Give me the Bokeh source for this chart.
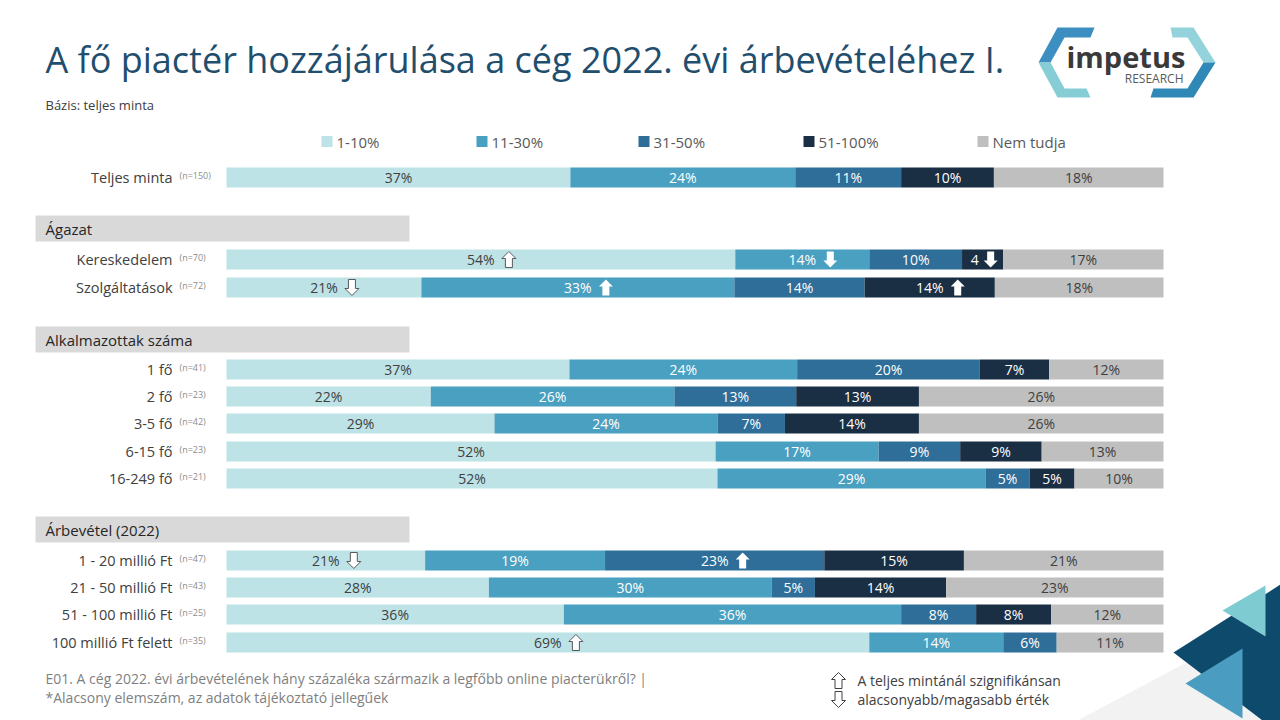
import numpy as np
from bokeh.plotting import figure
from bokeh.models import Range1d
from bokeh.core.properties import value
from bokeh.embed import file_html
from bokeh.resources import INLINE

FONT = "Open Sans"

# ---------------- data ----------------
title_text = "A fő piactér hozzájárulása a cég 2022. évi árbevételéhez I."
base_note = "Bázis: teljes minta"
categories = ["1-10%", "11-30%", "31-50%", "51-100%", "Nem tudja"]
colors = ["#BEE3E6", "#4AA0C0", "#2E6E99", "#1A2E44", "#BFBFBF"]

groups = ["Ágazat", "Alkalmazottak száma", "Árbevétel (2022)"]
rows = ["Teljes minta", "Kereskedelem", "Szolgáltatások", "1 fő", "2 fő", "3-5 fő",
        "6-15 fő", "16-249 fő", "1 - 20 millió Ft", "21 - 50 millió Ft",
        "51 - 100 millió Ft", "100 millió Ft felett"]
n_sizes = [150, 70, 72, 41, 23, 42, 23, 21, 47, 43, 25, 35]

v_1_10 = [36.7, 54.3, 20.8, 36.6, 21.8, 28.6, 52.2, 52.4, 21.2, 28.0, 36.0, 68.6]
v_11_30 = [24.0, 14.3, 33.4, 24.3, 26.0, 23.8, 17.4, 28.6, 19.2, 30.2, 36.0, 14.3]
v_31_50 = [11.3, 9.9, 13.9, 19.5, 13.0, 7.2, 8.7, 4.7, 23.4, 4.6, 8.0, 5.7]
v_51_100 = [9.9, 4.4, 13.9, 7.4, 13.1, 14.3, 8.7, 4.8, 14.9, 14.0, 8.0, 0.0]
v_nem = [18.1, 17.1, 18.0, 12.2, 26.1, 26.1, 13.0, 9.5, 21.3, 23.2, 12.0, 11.4]

# significance marks: (row index, segment index, direction)
sig_marks = [(1, 0, "up"), (1, 1, "down"), (1, 3, "down"),
             (2, 0, "down"), (2, 1, "up"), (2, 3, "up"),
             (8, 0, "down"), (8, 2, "up"), (11, 0, "up")]

footer_1 = "E01. A cég 2022. évi árbevételének hány százaléka származik a legfőbb online piacterükről? |"
footer_2 = "*Alacsony elemszám, az adatok tájékoztató jellegűek"
sig_note_1 = "A teljes mintánál szignifikánsan"
sig_note_2 = "alacsonyabb/magasabb érték"

# ---------------- layout ----------------
W, H = 1280, 720
BAR_X0, BAR_X1 = 226, 1163
PX = 100.0 / (BAR_X1 - BAR_X0)      # data units per pixel
BAR_H = 20
row_y = [177, 259, 287, 369, 396, 423, 451, 478, 560, 587, 614, 642]
group_box = [(215, 241), (326, 352), (516, 542)]
legend_x = [321, 476, 638, 803, 977]
legend_y = 141

p = figure(width=W, height=H, output_backend="svg", toolbar_location=None,
           x_range=Range1d(-BAR_X0 * PX, (W - BAR_X0) * PX), y_range=Range1d(H, 0),
           x_axis_type=None, y_axis_type=None, min_border=0, title=None)
p.extra_x_ranges = {"px": Range1d(0, W)}
p.outline_line_color = None
p.background_fill_color = "white"
p.border_fill_color = "white"

def T(x, y, txt, size, color, align="left", bold=False, rng="px"):
    p.text(x=[x], y=[y], text=[txt], text_font=value(FONT), text_font_size=f"{size}px",
           text_color=color, text_align=align, text_baseline="middle",
           text_font_style="bold" if bold else "normal", x_range_name=rng)

# ---------------- decorations ----------------
p.patch([1077, 1280, 1280], [720, 612, 720], fill_color="#F2F2F2", line_color=None, x_range_name="px")
p.patch([1173, 1280, 1280, 1262], [652, 584, 720, 720], fill_color="#0E4A6B", line_color=None, x_range_name="px")
p.patch([1222, 1265, 1265], [610, 585, 636], fill_color="#7ECBD1", line_color=None, x_range_name="px")
p.patch([1185, 1242, 1242], [683, 648, 718], fill_color="#4A9DC0", line_color=None, x_range_name="px")

# logo
p.patch([1094, 1057, 1038, 1050, 1064, 1090], [27, 27, 62, 62, 37, 37], fill_color="#3C8FC0", line_color=None, x_range_name="px")
p.patch([1038, 1057, 1090, 1086, 1064, 1050], [62, 97, 97, 88, 88, 62], fill_color="#86CDD6", line_color=None, x_range_name="px")
p.patch([1170, 1193, 1215, 1203, 1187, 1172], [27, 27, 62, 62, 37, 37], fill_color="#94D3DB", line_color=None, x_range_name="px")
p.patch([1215, 1193, 1150, 1153, 1187, 1203], [62, 97, 97, 88, 88, 62], fill_color="#2F88B6", line_color=None, x_range_name="px")
T(1066, 56, "impetus", 29, "#3A3A3A", bold=True)
T(1183, 78, "RESEARCH", 12, "#595959", align="right")

# ---------------- titles ----------------
T(45, 59, title_text, 36, "#1F4E6E")
T(45, 104, base_note, 13, "#404040")

# legend
for k, cat in enumerate(categories):
    p.rect(x=[legend_x[k] + 5.5], y=[legend_y], width=11, height=11, fill_color=colors[k],
           line_color=None, x_range_name="px")
    T(legend_x[k] + 15, legend_y, cat, 15, "#595959")

# section headers
for (top, bot), g in zip(group_box, groups):
    p.quad(left=[35], right=[409], top=[top], bottom=[bot], fill_color="#D9D9D9",
           line_color=None, x_range_name="px")
    T(45, (top + bot) / 2, g, 15, "#262626")

# row labels
for r, lab in enumerate(rows):
    T(172, row_y[r], lab, 14.5, "#404040", align="right")
    T(179, row_y[r] - 2, f"(n={n_sizes[r]})", 9, "#8C8C8C")

# ---------------- bars ----------------
vals = np.array([v_1_10, v_11_30, v_31_50, v_51_100, v_nem])
cum = np.cumsum(vals, axis=0)
left = cum - vals
for k in range(len(categories)):
    p.hbar(y=row_y, left=left[k], right=cum[k], height=BAR_H, fill_color=colors[k], line_color=None)

text_cols = ["#404040", "#FFFFFF", "#FFFFFF", "#FFFFFF", "#404040"]
sig_map = {(r, s): d for r, s, d in sig_marks}

def arrow(cx, cy, direction, sx):
    pts = [(0, -8), (7, -1), (3.5, -1), (3.5, 8), (-3.5, 8), (-3.5, -1), (-7, -1)]
    sgn = 1 if direction == "up" else -1
    return [cx + dx * sx for dx, dy in pts], [cy + dy * sgn for dx, dy in pts]

for k in range(len(categories)):
    xs, ys, ts, offs = [], [], [], []
    for r in range(len(rows)):
        v = vals[k][r]
        if v < 0.5:
            continue
        c = (left[k][r] + cum[k][r]) / 2
        txt = f"{round(v)}%"
        off = 0
        ax = 28
        d = sig_map.get((r, k))
        if d is not None and v < 5:
            txt = f"{round(v)}"
            off = -8
            ax = 8
        xs.append(c); ys.append(row_y[r]); ts.append(txt); offs.append(off)
        if d is not None:
            axs, ays = arrow(c + ax * PX, row_y[r], d, PX)
            if k == 0:
                p.patch(axs, ays, fill_color="#FFFFFF", line_color="#595959", line_width=1)
            else:
                p.patch(axs, ays, fill_color="#FFFFFF", line_color=None)
    p.text(x=xs, y=ys, text=ts, x_offset=offs, text_font=value(FONT), text_font_size="14px",
           text_color=text_cols[k], text_align="center", text_baseline="middle")

# ---------------- footer ----------------
T(45, 678, footer_1, 14, "#7F7F7F")
T(45, 697, footer_2, 14, "#7F7F7F")
for yy, d in [(680, "up"), (699, "down")]:
    axs, ays = arrow(838, yy, d, 1)
    p.patch(axs, ays, fill_color="#FFFFFF", line_color="#404040", line_width=1, x_range_name="px")
T(857, 680, sig_note_1, 14, "#404040")
T(857, 699, sig_note_2, 14, "#404040")

open("out.html", "w").write(file_html(p, INLINE))
